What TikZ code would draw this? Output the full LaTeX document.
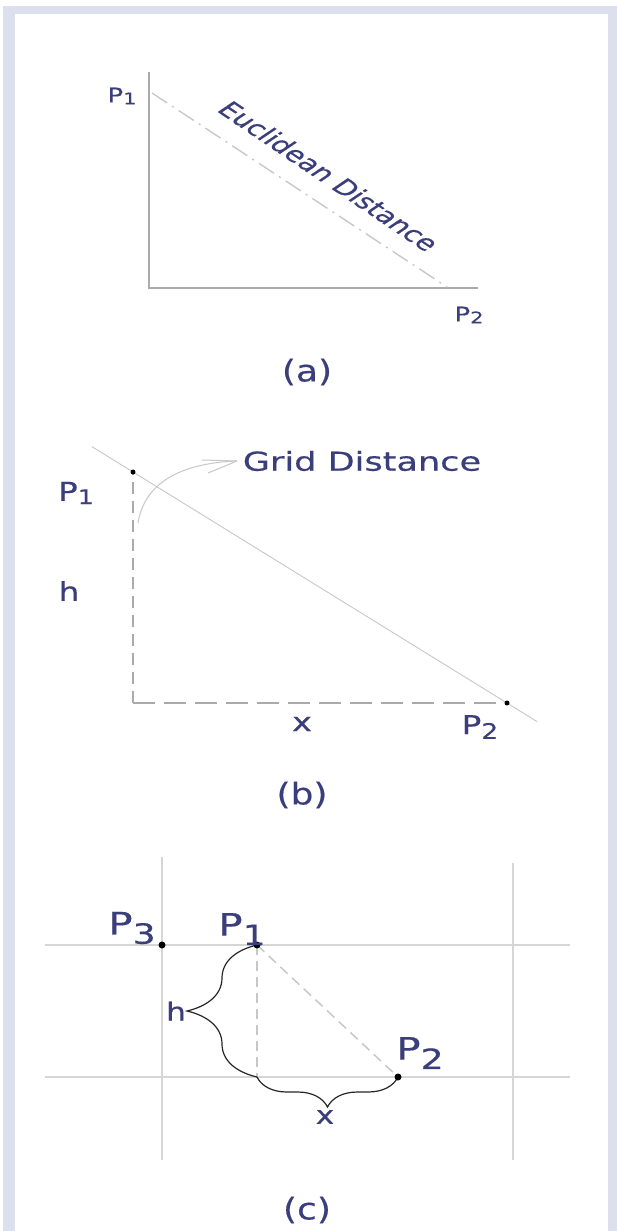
\documentclass[tikz,border=0pt]{standalone}
\usepackage{fontspec}
\setmainfont{DejaVu Sans}[FakeBold=0.4]
\usetikzlibrary{decorations.pathreplacing,calc}
\definecolor{navy}{RGB}{58,62,122}
\definecolor{framec}{RGB}{220,224,238}
\definecolor{axisg}{RGB}{170,170,170}
\definecolor{lightg}{RGB}{200,200,200}
\definecolor{gridg}{RGB}{214,214,214}
\newcommand\Pidx[3]{P\raisebox{-#2em}{\scalebox{#1}{#3}}}
\newcommand\fs[1]{\fontsize{#1}{#1}\selectfont}
\begin{document}
\begin{tikzpicture}[x=1pt,y=-1pt,
  lbl/.style={text=navy, inner sep=0pt, anchor=center},
  axisline/.style={draw=axisg, line width=1.8pt},
  dashdotline/.style={draw=lightg, line width=1.4pt, dash pattern=on 18pt off 6pt on 2pt off 6pt},
  griddash/.style={draw=axisg, line width=2.4pt},
  thinline/.style={draw=lightg, line width=0.9pt},
  calloutline/.style={draw=lightg, line width=1pt},
  gridline/.style={draw=gridg, line width=1.5pt},
  lightdash/.style={draw=lightg, line width=1.5pt, dash pattern=on 10pt off 6pt},
  bracel/.style={draw=black!85, line width=1.2pt, decorate, decoration={brace, amplitude=#1}},
  smalldot/.style={circle, fill=black, inner sep=0pt, minimum size=5pt},
  bigdot/.style={circle, fill=black, inner sep=0pt, minimum size=7pt}]
\useasboundingbox (0,0) rectangle (617,1231);
\fill[white] (0,0) rectangle (617,1231);
\fill[framec] (3,6) rectangle (617,1231);
\fill[white] (15,14) rectangle (608,1231);

% ---------- (a)
\coordinate (aTop) at (149,72);
\coordinate (aO) at (149,288);
\coordinate (aEnd) at (478,288);
\draw[axisline] (aTop) -- (aO) -- (aEnd);
\coordinate (a1) at (152,93);
\coordinate (a2) at (447,287);
\draw[dashdotline] (a1) -- (a2);
\node[lbl, font=\fs{20}, xscale=1.3] (aP1) at (122,96) {\Pidx{0.8}{0.1}{1}};
\node[lbl, font=\fs{20}, xscale=1.3] (aP2) at (469,315) {\Pidx{0.8}{0.1}{2}};
\node[lbl, font=\fs{21}, xscale=1.48, rotate=-45] (aEu) at (329,176) {Euclidean Distance};
\node[lbl, font=\fs{30}, xscale=1.2] (capA) at (307,372) {(a)};

% ---------- (b)
\coordinate (b1) at (133,472);
\coordinate (b2) at (507,703);
\coordinate (bc) at (b1 |- b2);
\draw[griddash, dash pattern=on 12pt off 7pt] (bc) -- (b1);
\draw[griddash, dash pattern=on 22pt off 9pt] (bc) -- (b2);
\draw[thinline] ($(b1)!-0.11!(b2)$) -- ($(b1)!1.08!(b2)$);
\node[smalldot] (b1dot) at (b1) {};
\node[smalldot] (b2dot) at (b2) {};
\node[lbl, font=\fs{26}, xscale=1.35] (gd) at (362,461) {Grid Distance};
\coordinate (cs) at (138,523);
\coordinate (tip) at (237,461);
\draw[calloutline] (cs) .. controls (145,480) and (185,463) .. (tip);
\draw[calloutline] (tip) -- (202,460);
\draw[calloutline] (tip) -- (208,473);
\node[lbl, font=\fs{26}, xscale=1.25] (bP1) at (76,493) {\Pidx{0.78}{0.13}{1}};
\node[lbl, font=\fs{26}, xscale=1.25] (bh) at (69,591) {h};
\node[lbl, font=\fs{26}, xscale=1.3] (bx) at (302,724) {x};
\node[lbl, font=\fs{26}, xscale=1.25] (bP2) at (480,727) {\Pidx{0.82}{0.18}{2}};
\node[lbl, font=\fs{30}, xscale=1.2] (capB) at (302,795) {(b)};

% ---------- (c)
\coordinate (v1t) at (162,857); \coordinate (v1b) at (162,1160);
\coordinate (v2t) at (513,863); \coordinate (v2b) at (513,1160);
\coordinate (h1l) at (45,945);  \coordinate (h1r) at (570,945);
\coordinate (h2l) at (45,1077); \coordinate (h2r) at (570,1077);
\draw[gridline] (v1t) -- (v1b);
\draw[gridline] (v2t) -- (v2b);
\draw[gridline] (h1l) -- (h1r);
\draw[gridline] (h2l) -- (h2r);
\coordinate (c3) at (162,945);
\coordinate (c1) at (257,945);
\coordinate (c2) at (398,1077);
\coordinate (cc) at (c1 |- c2);
\draw[lightdash] (c1) -- (cc);
\draw[lightdash] (c1) -- (c2);
\draw[bracel=70pt] (cc) -- (c1);
\draw[bracel=30pt] (c2) -- (cc);
\node[bigdot] (c3dot) at (c3) {};
\node[bigdot] (c1dot) at (c1) {};
\node[bigdot] (c2dot) at (c2) {};
\node[lbl, font=\fs{31}, xscale=1.3] (cP3) at (132,928) {\Pidx{0.9}{0.3}{3}};
\node[lbl, font=\fs{31}, xscale=1.3] (cP1) at (242,929) {\Pidx{0.9}{0.3}{1}};
\node[lbl, font=\fs{31}, xscale=1.3] (cP2) at (420,1053) {\Pidx{0.9}{0.3}{2}};
\node[lbl, font=\fs{25}, xscale=1.25] (ch) at (176,1011) {h};
\node[lbl, font=\fs{25}, xscale=1.25] (cx) at (325,1117) {x};
\node[lbl, font=\fs{30}, xscale=1.2] (capC) at (307,1210) {(c)};
\end{tikzpicture}
\end{document}
